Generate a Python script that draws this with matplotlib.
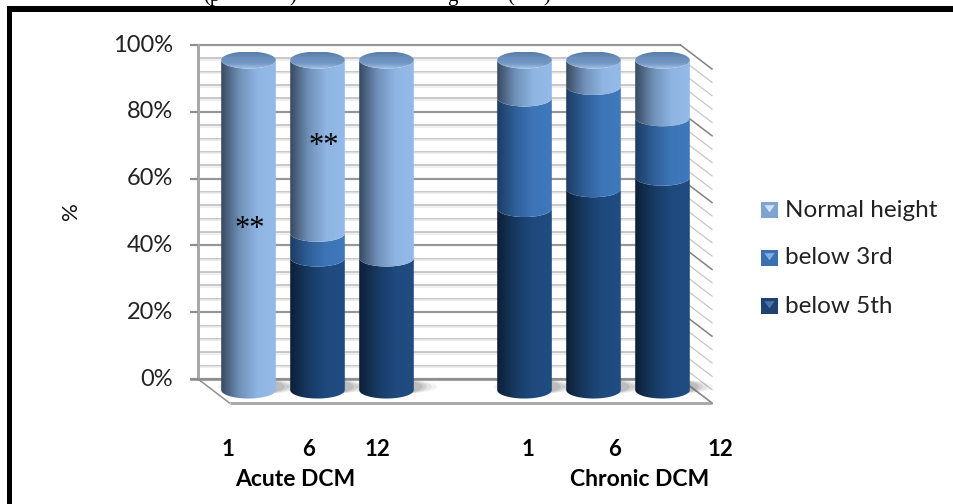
#!/usr/bin/env python3
"""Stacked 3D-look cylinders: height percentiles in acute and chronic DCM."""

import matplotlib

matplotlib.use("Agg")
import matplotlib.pyplot as plt
import numpy as np
from matplotlib.colors import LinearSegmentedColormap
from matplotlib.patches import Ellipse, PathPatch, Rectangle
from matplotlib.path import Path

W, H = 954, 504

# chart values (percent of each group)
positions = [0, 1, 2, 4, 5, 6]
below_5th = [0, 40, 40, 55, 61, 64.5]
below_3rd = [0, 7.5, 0, 33.5, 31, 18]
normal_height = [100, 52.5, 60, 11.5, 8, 17.5]

series_names = ["below 5th", "below 3rd", "Normal height"]
series_values = [below_5th, below_3rd, normal_height]
series_ramps = [
    ["#0d1f36", "#173a63", "#1f4a7e", "#204c82"],
    ["#1c3c63", "#2f5f98", "#3d76b8", "#3f79bb"],
    ["#384a60", "#6f90b8", "#8fb5e3", "#94bae9"],
]
legend_swatch = ["#1f4272", "#3a70b0", "#7ea4d2"]
legend_tip = ["#4a74a8", "#7fb0e4", "#cfe4fb"]

y_ticks = [0, 20, 40, 60, 80, 100]
minor_step = 4

sub_labels = ["1", "6", "12", "1", "6", "12"]
sub_label_px = [228, 309, 377, 528, 615, 720]
group_labels = ["Acute DCM", "Chronic DCM"]
group_label_px = [295, 640]

# scales, taken from the gridded wall in the original
PX_PER_UNIT = 69.0
PX_PER_PCT = 3.34
X0_PX, Y0_PX = 248.5, 379.0
DEPTH_X, DEPTH_Y = 31.5, 24.0
WALL_LEFT_PX, WALL_RIGHT_PX = 198.0, 680.5

CYL_HALF = 27.3 / PX_PER_UNIT
CAP_H = 8.5 / PX_PER_PCT
BASE = -3.3
STACK_SCALE = 0.988


def px_x(px):
    return (px - X0_PX) / PX_PER_UNIT


def px_y(py):
    return (Y0_PX - py) / PX_PER_PCT


def stack_y(value):
    return BASE + value * STACK_SCALE


def segment_path(xc, y0, y1):
    # side band between the front arcs at y0 and y1
    t = np.linspace(np.pi, 2 * np.pi, 50)
    xs = xc + CYL_HALF * np.cos(t)
    lower = CAP_H * np.sin(t)
    verts = list(zip(xs, y0 + lower)) + list(zip(xs[::-1], y1 + lower[::-1]))
    verts.append(verts[0])
    codes = [Path.MOVETO] + [Path.LINETO] * (len(verts) - 2) + [Path.CLOSEPOLY]
    return Path(verts, codes)


def draw_gradient(ax, path, extent, ramp, vertical=False, z=4):
    cmap = LinearSegmentedColormap.from_list("ramp", ramp)
    grad = np.linspace(0, 1, 128).reshape(1, -1)
    if vertical:
        grad = grad.T
    im = ax.imshow(grad, extent=extent, cmap=cmap, aspect="auto", zorder=z,
                   interpolation="bilinear", origin="lower")
    patch = PathPatch(path, transform=ax.transData, fc="none", ec="none")
    ax.add_patch(patch)
    im.set_clip_path(patch)


def draw_walls(ax):
    left, right = px_x(WALL_LEFT_PX), px_x(WALL_RIGHT_PX)
    dx, dy = DEPTH_X / PX_PER_UNIT, DEPTH_Y / PX_PER_PCT
    lw = 0.72
    for v in np.arange(0, 100 + minor_step, minor_step):
        major = v in y_ticks
        color = "#969696" if major else "#c4c4c4"
        ax.plot([left, right], [v, v], color=color, lw=lw * (2.2 if major else 1.8),
                zorder=1, solid_capstyle="butt")
        if not major:
            ax.plot([left, right], [v - 0.45, v - 0.45], color="#e9e9e9", lw=lw * 1.5, zorder=1)
        ax.plot([right, right + dx], [v, v - dy], color="#808080" if major else "#c4c4c4",
                lw=lw * (1.5 if major else 1.2), zorder=1)
    # left wall edge, tick stubs, floor outline
    ax.plot([left, left], [0, 100], color="#a8a8a8", lw=lw * 3, zorder=2)
    for v in y_ticks:
        ax.plot([px_x(190), left], [v, v], color="#8e8e8e", lw=lw * 2.2, zorder=2,
                solid_capstyle="butt")
    ax.plot([px_x(190), right], [0, 0], color="#8e8e8e", lw=lw * 2.6, zorder=2,
            solid_capstyle="butt")
    ax.plot([left, left + dx], [0, -dy], color="#8e8e8e", lw=lw * 1.5, zorder=2)
    ax.plot([left + dx, right + dx], [-dy, -dy], color="#a6a6a6", lw=lw * 2.8, zorder=2,
            solid_capstyle="butt")
    ax.plot([right, right + dx], [0, -dy], color="#8e8e8e", lw=lw * 1.2, zorder=2)


def draw_cylinder(ax, xc, values):
    x0, x1 = xc - CYL_HALF, xc + CYL_HALF
    # soft floor shadow, falls to the right of the base
    for grow, alpha in ((1.5, 0.07), (1.35, 0.10), (1.2, 0.14), (1.08, 0.18)):
        ax.add_patch(Ellipse((xc + 0.14 * grow / 1.5, BASE + 1.0), 2 * CYL_HALF * grow, 2 * CAP_H * 0.85,
                             fc="#606060", ec="none", alpha=alpha, zorder=3))
    bottom = 0.0
    for vals, ramp in zip(values, series_ramps):
        if vals <= 0:
            continue
        y0, y1 = stack_y(bottom), stack_y(bottom + vals)
        path = segment_path(xc, y0, y1)
        draw_gradient(ax, path, (x0, x1, y0 - CAP_H, y1 + CAP_H), ramp)
        bottom += vals
    # lid of the stack
    top = stack_y(bottom)
    t = np.linspace(0, 2 * np.pi, 80)
    lid = Path(np.column_stack([xc + CYL_HALF * np.cos(t), top + CAP_H * np.sin(t)]))
    draw_gradient(ax, lid, (x0, x1, top - CAP_H, top + CAP_H),
                  ["#a4c4ea", "#7397c3", "#6a8fbc", "#587ba5"], vertical=True, z=5)


def main():
    fig = plt.figure(figsize=(W / 100, H / 100), dpi=100, facecolor="white")
    ax = fig.add_axes([0, 0, 1, 1])
    ax.set_xlim(px_x(0), px_x(W))
    ax.set_ylim(px_y(H), px_y(0))
    ax.axis("off")

    draw_walls(ax)
    for i, pos in enumerate(positions):
        draw_cylinder(ax, pos, [s[i] for s in series_values])
    ax.set_xlim(px_x(0), px_x(W))
    ax.set_ylim(px_y(H), px_y(0))

    font = "Lato"
    for v in y_ticks:
        ax.text(px_x(173), v, f"{v}%", ha="right", va="center", fontsize=17,
                family=font, color="#222222", zorder=8)
    ax.text(px_x(71), px_y(211), "%", rotation=90, ha="center", va="center",
            fontsize=16, family=font, color="#111111")

    for label, px in zip(sub_labels, sub_label_px):
        ax.text(px_x(px), px_y(449), label, ha="center", va="center", fontsize=16,
                fontweight="bold", family=font, color="black")
    for label, px in zip(group_labels, group_label_px):
        ax.text(px_x(px), px_y(479), label, ha="center", va="center", fontsize=16.5,
                fontweight="bold", family=font, color="black")

    # significance marks
    for px, py in ((250, 225), (324, 142)):
        ax.text(px_x(px), px_y(py + 4), "**", ha="center", va="center", fontsize=22,
                family="Liberation Serif", color="black", zorder=9)

    # legend drawn by hand, it has the little bevelled swatches
    for name, swatch, tip, py in zip(series_names, legend_swatch, legend_tip, (306, 258, 210)):
        sx, sy = px_x(761), px_y(py + 8)
        sw, sh = 17 / PX_PER_UNIT, 16 / PX_PER_PCT
        ax.add_patch(Rectangle((sx, sy), sw, sh, fc=swatch, ec="none", zorder=6))
        ax.fill([sx + sw * 0.2, sx + sw * 0.8, sx + sw * 0.5],
                [sy + sh * 0.8, sy + sh * 0.8, sy + sh * 0.35], fc=tip, ec="none", zorder=7)
        ax.text(px_x(785), px_y(py), name, ha="left", va="center", fontsize=17.5,
                family=font, color="#222222")

    # frame of the scanned page, no right or bottom side
    ax.add_patch(Rectangle((px_x(7), px_y(6)), px_x(W) - px_x(7), px_y(11.5) - px_y(6),
                           fc="black", ec="none", zorder=10))
    ax.add_patch(Rectangle((px_x(7), px_y(H)), px_x(12) - px_x(7), px_y(6) - px_y(H),
                           fc="black", ec="none", zorder=10))

    # bottoms of the caption line above the frame, cut off by the page
    for frag, px in (("(p", 212), (")", 293), ("g", 452), ("(", 511), (")", 547)):
        ax.text(px_x(px), px_y(1), frag, ha="center", va="baseline", fontsize=15,
                family="Liberation Serif", color="black", zorder=9)

    fig.savefig("out.png", dpi=100)
    plt.close(fig)
    return 0


if __name__ == "__main__":
    raise SystemExit(main())
